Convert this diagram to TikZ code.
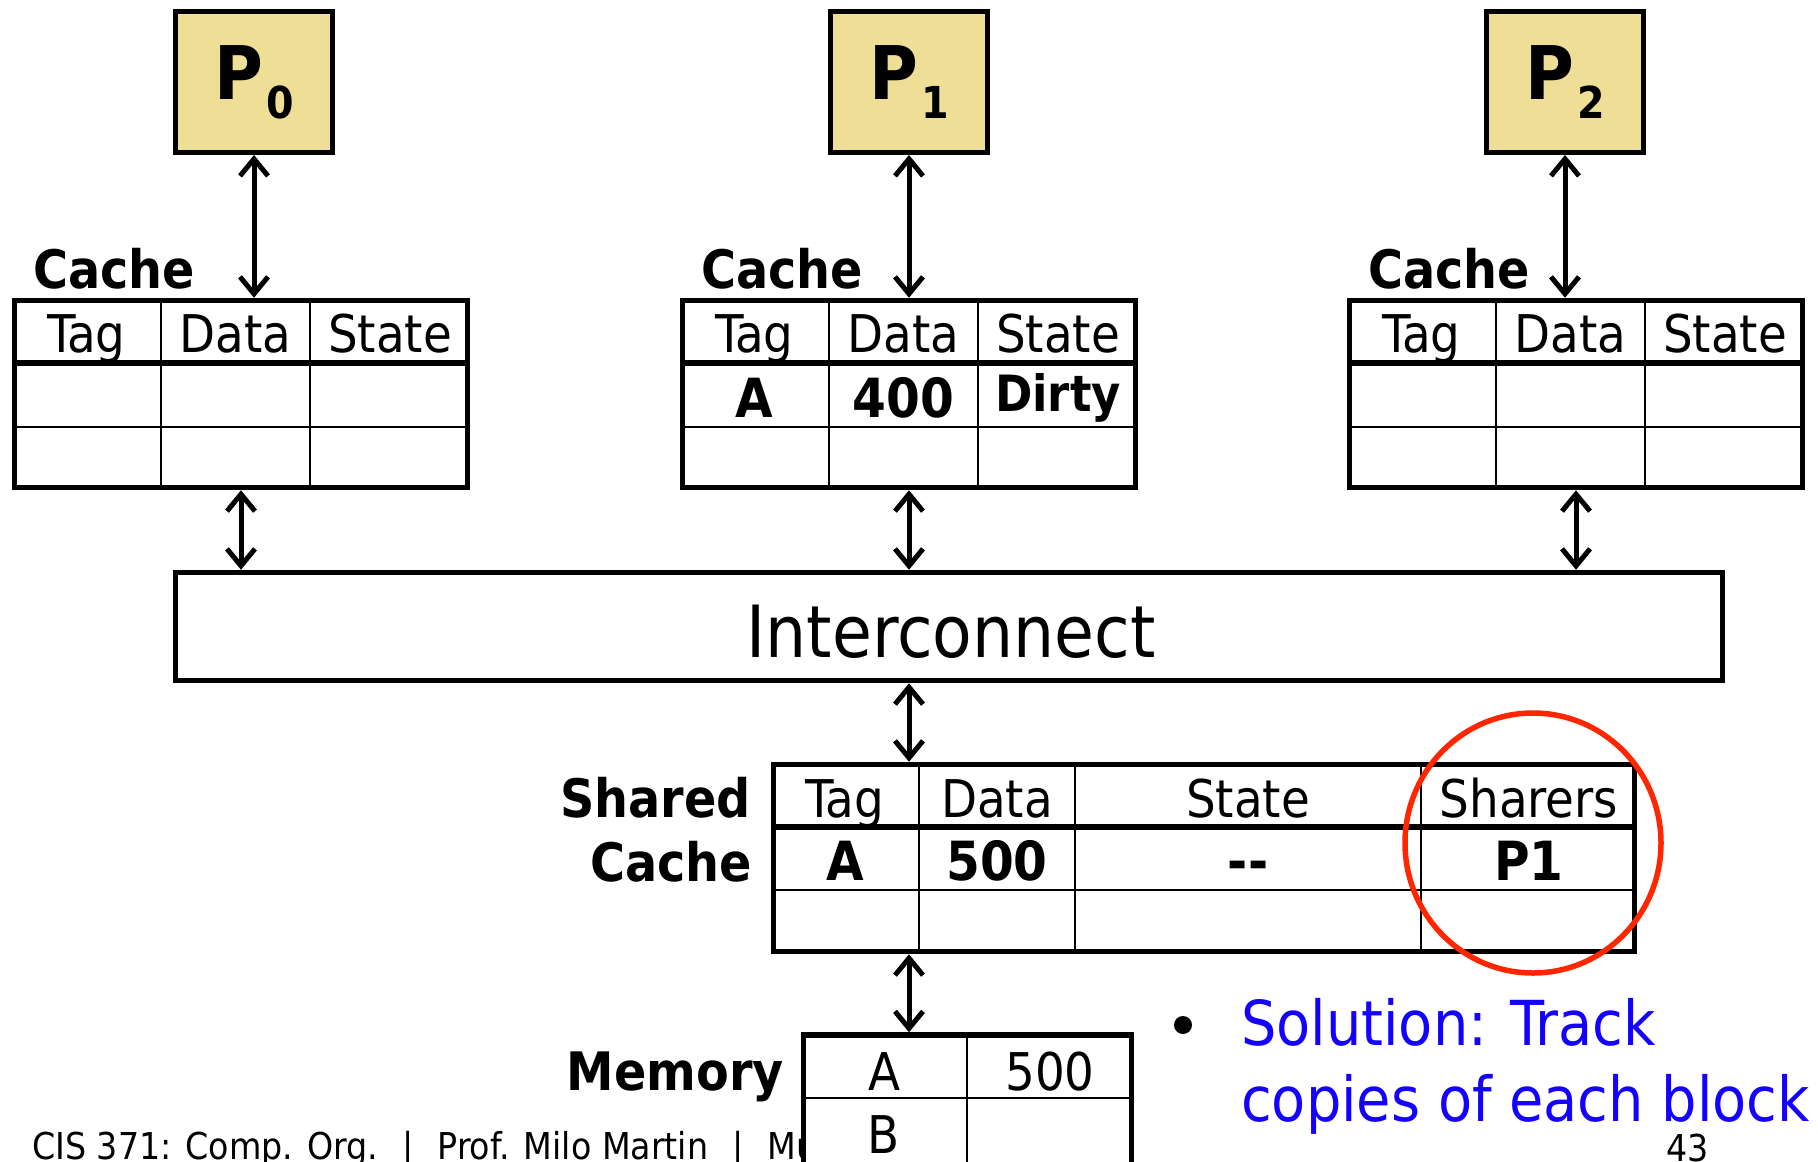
\documentclass[tikz,border=0pt]{standalone}
\usepackage{fontspec}
\setmainfont{DejaVu Sans Condensed}
\usetikzlibrary{arrows.meta}

\definecolor{procfill}{RGB}{238,222,150}
\definecolor{circred}{RGB}{255,38,0}
\definecolor{noteblue}{RGB}{20,0,255}

\tikzset{
  proc/.style={draw, line width=5pt, fill=procfill, minimum width=157, minimum height=141, inner sep=0pt},
  tbl/.style={draw, line width=5.5pt, fill=white, inner sep=0pt},
  rowline/.style={line width=2.2pt},
  hdrline/.style={line width=5.5pt},
  link/.style={line width=5pt, line cap=round,
    {Straight Barb[length=17pt,width=28pt]}-{Straight Barb[length=17pt,width=28pt]}},
  hdr/.style={font=\fontsize{52}{60}\selectfont, inner sep=0pt, anchor=base},
  val/.style={font=\fontsize{54}{60}\selectfont\bfseries, inner sep=0pt, anchor=base},
  lbl/.style={font=\fontsize{53}{60}\selectfont\bfseries, inner sep=0pt},
  foottext/.style={anchor=base west, inner sep=0pt, font=\fontsize{37}{40}\selectfont},
  notetext/.style={anchor=base west, inner sep=0pt, text=noteblue, font=\fontsize{62}{70}\selectfont},
}

\begin{document}
\begin{tikzpicture}[x=1pt,y=-1pt]
  \clip (0,0) rectangle (1818,1162);

  % footer (partly hidden by memory)
  \node[foottext] (foot) at (32,1159)
    {CIS 371: Comp. Org.\hspace{24pt}|\hspace{24pt}Prof. Milo Martin\hspace{24pt}|\hspace{24pt}Mu};
  \node[foottext] (pagenum) at (1666,1161) {43};

  % processors
  \node[proc] (p0) at (254,82) {\bfseries\fontsize{74}{80}\selectfont P\hspace{3pt}\raisebox{-19pt}{\fontsize{44}{50}\selectfont 0}};
  \node[proc] (p1) at (909,82) {\bfseries\fontsize{74}{80}\selectfont P\hspace{3pt}\raisebox{-19pt}{\fontsize{44}{50}\selectfont 1}};
  \node[proc] (p2) at (1565,82) {\bfseries\fontsize{74}{80}\selectfont P\hspace{3pt}\raisebox{-19pt}{\fontsize{44}{50}\selectfont 2}};

  % private caches
  \foreach \n/\dx in {0/0,1/668,2/1335}{
    \begin{scope}[xshift=\dx]
      \node[tbl, minimum width=453, minimum height=187] (c\n) at (241,394) {};
      \draw[hdrline] (12,363) -- (470,363);
      \draw[rowline] (12,427) -- (470,427) (161,298) -- (161,490) (310,298) -- (310,490);
      \node[hdr] (tag\n) at (86.5,352) {Tag};
      \node[hdr] (data\n) at (235.5,352) {Data};
      \node[hdr] (state\n) at (390,352) {State};
      \node[lbl, anchor=base west] (clab\n) at (33,288) {Cache};
    \end{scope}
  }
  \node[val] (tagA) at (754.5,417) {A};
  \node[val] (data400) at (903.5,417) {400};
  \node[val, font=\fontsize{50}{60}\selectfont\bfseries] (dirty) at (1058,411) {Dirty};

  % interconnect
  \node[draw, line width=5.5pt, minimum width=1547, minimum height=108, inner sep=0pt] (ic) at (949,626.5) {};
  \node[font=\fontsize{72}{80}\selectfont, inner sep=0pt] (ictext) at (951,632) {Interconnect};

  \draw[link] (p0.south) -- (p0.south |- c0.north);
  \draw[link] (p1.south) -- (p1.south |- c1.north);
  \draw[link] (p2.south) -- (p2.south |- c2.north);
  \draw[link] (c0.south) -- (c0.south |- ic.north);
  \draw[link] (c1.south) -- (c1.south |- ic.north);
  \draw[link] (c2.south) -- (c2.south |- ic.north);

  % shared cache
  \node[tbl, minimum width=861, minimum height=187] (sc) at (1204,858) {};
  \draw[hdrline] (771,827) -- (1637,827);
  \draw[rowline] (771,890) -- (1637,890) (919,762) -- (919,954) (1075,762) -- (1075,954) (1421,762) -- (1421,954);
  \node[hdr] (stag) at (845,817) {Tag};
  \node[hdr] (sdata) at (997,817) {Data};
  \node[hdr] (sstate) at (1248,817) {State};
  \node[hdr] (ssharers) at (1529,817) {Sharers};
  \node[val] (sA) at (845,880) {A};
  \node[val] (s500) at (997,880) {500};
  \node[val] (sdash) at (1248,880) {\mbox{-}\mbox{-}};
  \node[val] (sP1) at (1529,880) {P1};
  \node[lbl, anchor=base east] (shlab) at (751,817) {Shared};
  \node[lbl, anchor=base east] (shlab2) at (752,881) {Cache};

  \draw[link] (p1 |- ic.south) -- (p1 |- sc.north);

  % memory
  \node[tbl, minimum width=328, minimum height=132] (mem) at (967.5,1101) {};
  \draw[rowline] (802,1098) -- (1133,1098) (967,1033) -- (967,1170);
  \node[hdr] (mA) at (884,1090) {A};
  \node[hdr] (m500) at (1050,1090) {500};
  \node[hdr] (mB) at (884,1153) {B};
  \node[lbl, anchor=base east] (memlab) at (784,1090) {Memory};

  \draw[link] (p1 |- sc.south) -- (p1 |- mem.north);

  % sharers highlight
  \draw[circred, line width=5.5pt] (1533,843) ellipse (128 and 130);

  % note
  \node[circle, fill, inner sep=0pt, minimum size=18] (dot) at (1183,1025) {};
  \node[notetext] (note1) at (1241,1045) {Solution: Track};
  \node[notetext] (note2) at (1241,1121) {copies of each block};
\end{tikzpicture}
\end{document}
